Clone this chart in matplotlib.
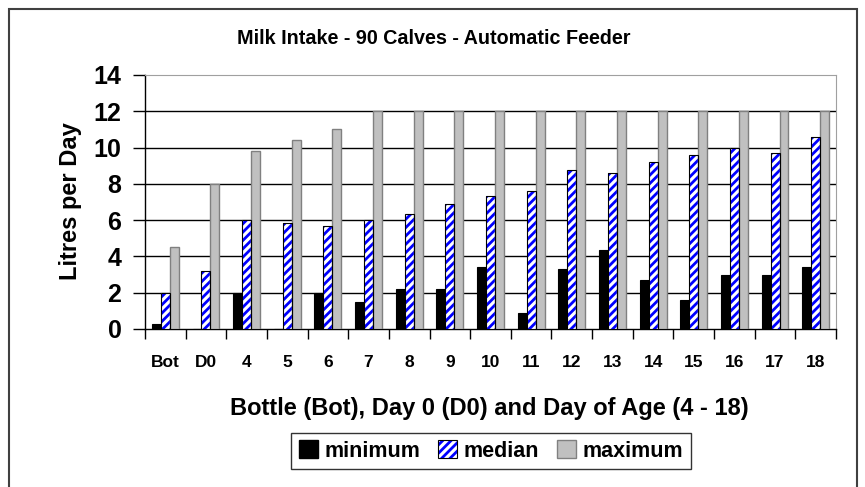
import matplotlib.pyplot as plt
from matplotlib.patches import Patch, Rectangle
from matplotlib.legend_handler import HandlerTuple
import numpy as np

# data
categories = ['Bot', 'D0', '4', '5', '6', '7', '8', '9', '10',
              '11', '12', '13', '14', '15', '16', '17', '18']
minimum = [0.3, 0.0, 2.0, 0.0, 2.0, 1.5, 2.2, 2.2, 3.4,
           0.9, 3.3, 4.35, 2.7, 1.6, 3.0, 3.0, 3.4]
median = [2.0, 3.2, 6.0, 5.85, 5.7, 6.0, 6.35, 6.9, 7.35,
          7.6, 8.75, 8.6, 9.2, 9.6, 10.0, 9.7, 10.6]
maximum = [4.5, 8.0, 9.8, 10.4, 11.0, 12, 12, 12, 12,
           12, 12, 12, 12, 12, 12, 12, 12]
yticks = [0, 2, 4, 6, 8, 10, 12, 14]

plt.rcParams['font.family'] = ['Liberation Sans', 'DejaVu Sans']
plt.rcParams['font.weight'] = 'bold'
plt.rcParams['hatch.linewidth'] = 2.0

fig = plt.figure(figsize=(8.65, 4.87), dpi=100)
ax = fig.add_axes([145 / 865, 1 - 329 / 487, (836 - 145) / 865, (329 - 75) / 487])

x = np.arange(len(categories))
w = 0.22

ax.bar(x - w, minimum, w, color='black', edgecolor='black', linewidth=0.8, zorder=3)
ax.bar(x, median, w, color='white', edgecolor='#0000FF', hatch='////', linewidth=0, zorder=3)
ax.bar(x, median, w, fill=False, edgecolor='black', linewidth=0.8, zorder=4)
ax.bar(x + w, maximum, w, color='#C0C0C0', edgecolor='#808080', linewidth=1.0, zorder=3)

ax.set_xlim(-0.5, len(categories) - 0.5)
ax.set_ylim(0, 14)
ax.set_yticks(yticks)
ax.set_yticklabels([str(v) for v in yticks], fontsize=18, fontweight='bold')
ax.tick_params(axis='y', direction='out', length=9, width=1, pad=8)

ax.set_xticks(x)
ax.set_xticklabels(categories, fontsize=12.5, fontweight='bold')
ax.tick_params(axis='x', length=0, pad=19)
ax.set_xticks(np.arange(-0.5, len(categories)), minor=True)
ax.tick_params(axis='x', which='minor', direction='out', length=7, width=1)

for v in yticks[1:-1]:
    ax.axhline(v, color='black', linewidth=1, zorder=1)

ax.spines['top'].set_color('#A0A0A0')
ax.spines['right'].set_color('#A0A0A0')
ax.spines['left'].set_linewidth(1)
ax.spines['bottom'].set_linewidth(1)

fig.text(0.502, 0.92, 'Milk Intake - 90 Calves - Automatic Feeder', ha='center', va='center',
         fontsize=14.2, fontweight='bold')
fig.text(0.566, 0.162, 'Bottle (Bot), Day 0 (D0) and Day of Age (4 - 18)', ha='center', va='center',
         fontsize=17, fontweight='bold')
fig.text(71 / 865, 1 - 201 / 487, 'Litres per Day', rotation=90, ha='center', va='center',
         fontsize=17, fontweight='bold')

# outer chart border
fig.patches.append(Rectangle((9 / 865, -0.05), (857 - 9) / 865, 1 - 9 / 487 + 0.05,
                             transform=fig.transFigure, fill=False, edgecolor='#404040',
                             linewidth=1.5))

h_min = Patch(facecolor='black', edgecolor='black')
h_med = (Patch(facecolor='white', edgecolor='#0000FF', hatch='////', linewidth=0),
         Patch(fill=False, edgecolor='black', linewidth=0.8))
h_max = Patch(facecolor='#C0C0C0', edgecolor='#808080')
leg = fig.legend([h_min, h_med, h_max], ['minimum', 'median', 'maximum'],
                 handler_map={tuple: HandlerTuple(ndivide=1, pad=0)},
                 loc='center', bbox_to_anchor=(491 / 865, 1 - 451 / 487), ncol=3,
                 prop={'size': 15.5, 'weight': 'bold'}, frameon=True, fancybox=False,
                 edgecolor='black', handlelength=0.9, handleheight=0.9,
                 handletextpad=0.3, columnspacing=0.8, borderpad=0.35, borderaxespad=0)
leg.get_frame().set_linewidth(1)

plt.savefig('out.png', dpi=100)
